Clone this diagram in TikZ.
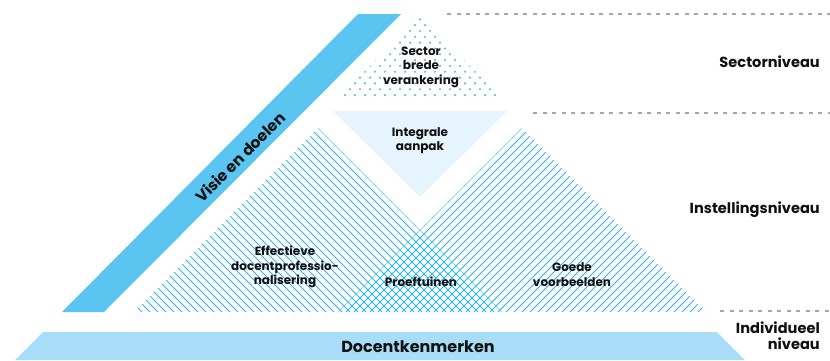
\documentclass[tikz,border=0pt]{standalone}
\usepackage{fontspec}
\setmainfont{Poppins}
\definecolor{bandc}{HTML}{5BC5F2}
\definecolor{barc}{HTML}{A7DDF7}
\definecolor{invc}{HTML}{E6F4FD}
\definecolor{hatchc}{HTML}{2AB5EE}
\definecolor{dotc}{HTML}{4FC0F0}
\definecolor{dashc}{HTML}{A6A6A6}
\definecolor{txtc}{HTML}{111111}
\begin{document}
\begin{tikzpicture}[x=1pt,y=-1pt,
  hatchline/.style={draw=hatchc,line width=0.9pt},
  dashline/.style={draw=dashc,line width=1.4pt,dash pattern=on 4pt off 5.5pt},
  side/.style={inner sep=0pt,text=txtc,font=\fontsize{14.6}{16}\selectfont\bfseries},
  inner/.style={inner sep=0pt,text=txtc,align=center,font=\fontsize{12}{14.5}\selectfont\bfseries},
]
\useasboundingbox (0,0) rectangle (830,360);
% dashed level separators
\draw[dashline] (447,14) -- (830,14);
\draw[dashline] (533,113) -- (830,113);
\draw[dashline] (720,311) -- (830,311);
% Visie en doelen band
\fill[bandc] (62,312) -- (104,312) -- (401,14) -- (358,14) -- cycle;
% Docentkenmerken bar
\fill[barc] (15,360) -- (43,332) -- (717,332) -- (745,360) -- cycle;
% Integrale aanpak
\fill[invc] (333,111) -- (507,111) -- (420,197) -- cycle;
% Sector dots
\begin{scope}
  \clip (420,16) -- (501,97) -- (339,97) -- cycle;
  \foreach \j in {0,...,13}{
    \pgfmathsetmacro{\yy}{19.3+5.83*\j}
    \pgfmathsetmacro{\off}{5*mod(\j,2)}
    \foreach \k in {-9,...,9}{
      \fill[dotc] ({420+10*\k+\off},\yy) circle (1.2pt);
    }
  }
\end{scope}
% left hatch
\begin{scope}
  \clip (134,312) -- (502,312) -- (318,128) -- cycle;
  \foreach \c in {-186,-178,...,198}{
    \draw[hatchline] (\c+100,100) -- (\c+320,320);
  }
\end{scope}
% right hatch
\begin{scope}
  \clip (338,312) -- (706,312) -- (522,128) -- cycle;
  \foreach \c in {642,650,...,1026}{
    \draw[hatchline] (\c-320,320) -- (\c-100,100);
  }
\end{scope}
% texts
\node[inner] (sector) at (421,67) {Sector\\brede\\verankering};
\node[inner] (integ) at (420,140.5) {Integrale\\aanpak};
\node[inner] (eff) at (285,267) {Effectieve\\docentprofessio-\\nalisering};
\node[inner] (proef) at (421,282) {Proeftuinen};
\node[inner] (goede) at (572,274.5) {Goede\\voorbeelden};
\node[inner sep=0pt,text=txtc,font=\fontsize{15.5}{18}\selectfont\bfseries,rotate=45] (visie) at (240,157) {Visie en doelen};
\node[inner sep=0pt,text=txtc,font=\fontsize{16}{18}\selectfont\bfseries] (docent) at (418,347) {Docentkenmerken};
\node[side,anchor=east] (sn) at (820,62) {Sectorniveau};
\node[side,anchor=east] (in) at (820,210) {Instellingsniveau};
\node[side,anchor=east,align=right] (iv) at (820,335.5) {Individueel\\niveau};
\end{tikzpicture}
\end{document}
